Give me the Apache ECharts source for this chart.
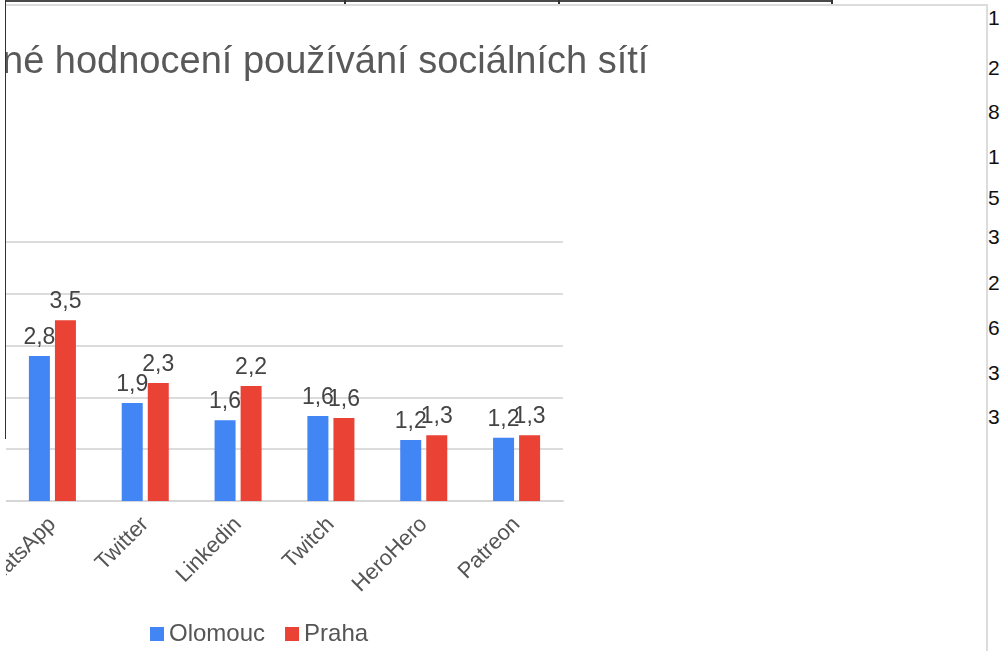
<!DOCTYPE html>
<html>
<head>
<meta charset="utf-8">
<script src="https://cdn.jsdelivr.net/npm/echarts@6/dist/echarts.min.js"></script>
<style>
  html, body { margin: 0; padding: 0; background: #fff; overflow: hidden; }
  body { width: 1000px; height: 651px; position: relative; font-family: "Liberation Sans", Arial, sans-serif; }
  #clip { position: absolute; left: 6px; top: 6px; width: 980px; height: 645px; overflow: hidden; }
  #chart { position: absolute; left: 0; top: 0; width: 980px; height: 645px; }
  .sheet-top { position: absolute; left: 5px; top: 0; width: 828px; height: 2px; background: #4a4a4a; }
  .tick { position: absolute; top: 0; width: 2px; height: 4px; background: #333; }
  .sheet-left { position: absolute; left: 5px; top: 0; width: 1px; height: 439px; background: #333; }
  .frame-top { position: absolute; left: 6px; top: 4px; width: 982px; height: 2px; background: #dcdcdc; }
  .frame-right { position: absolute; left: 986px; top: 4px; width: 2px; height: 647px; background: #dcdcdc; }
  .cell { position: absolute; left: 988px; font-size: 21px; color: #111; line-height: 22px; }
</style>
</head>
<body>
<div class="sheet-top"></div>
<div class="tick" style="left:344px"></div>
<div class="tick" style="left:558px"></div>
<div class="tick" style="left:831px"></div>
<div class="frame-top"></div>
<div class="frame-right"></div>
<div id="clip"><div id="chart"></div></div>
<div class="sheet-left"></div>
<div id="cells"></div>
<script>
// social networks visible in the cropped chart
var categories = ['WhatsApp', 'Twitter', 'Linkedin', 'Twitch', 'HeroHero', 'Patreon'];
var olomouc = [2.8, 1.89, 1.56, 1.64, 1.18, 1.22];
var praha = [3.49, 2.28, 2.22, 1.6, 1.27, 1.27];
var yTicks = [0, 1, 2, 3, 4, 5];
// digits of the spreadsheet column behind the chart
var cellDigits = ['1', '2', '8', '1', '5', '3', '2', '6', '3', '3'];
var cellTops = [7, 57, 101, 146, 187, 226, 272, 317, 362, 406];

var cells = document.getElementById('cells');
cellDigits.forEach(function (d, i) {
    var el = document.createElement('div');
    el.className = 'cell';
    el.style.top = cellTops[i] + 'px';
    el.textContent = d;
    cells.appendChild(el);
});

function fmt(p) {
    return p.value.toFixed(1).replace('.', ',');
}

var chart = echarts.init(document.getElementById('chart'));
var labelStyle = { show: true, position: 'top', distance: 7, fontSize: 23, color: '#444', fontFamily: 'Liberation Sans', formatter: fmt };

chart.setOption({
    animation: false,
    title: {
        text: 'né hodnocení používání sociálních sítí',
        left: -9,
        top: 33,
        textStyle: { fontSize: 38, fontWeight: 'normal', color: '#595959', fontFamily: 'Liberation Sans' }
    },
    legend: {
        left: 139,
        top: 611,
        itemWidth: 14,
        itemHeight: 14,
        itemGap: 20,
        icon: 'rect',
        textStyle: { fontSize: 24, color: '#555', fontFamily: 'Liberation Sans' },
        data: ['Olomouc', 'Praha']
    },
    grid: { left: 0, right: 423, top: 236, bottom: 150, containLabel: false, outerBoundsMode: 'none' },
    xAxis: {
        type: 'category',
        data: categories,
        axisLine: { lineStyle: { color: '#d6d6d6', width: 2 } },
        axisTick: { show: false },
        axisLabel: { rotate: 45, margin: 20, fontSize: 22, color: '#555', fontFamily: 'Liberation Sans', interval: 0 }
    },
    yAxis: {
        type: 'value',
        min: yTicks[0],
        max: yTicks[yTicks.length - 1],
        interval: 1,
        axisLabel: { show: false },
        axisLine: { show: false },
        axisTick: { show: false },
        splitLine: { lineStyle: { color: '#dcdcdc', width: 2 } }
    },
    series: [
        { name: 'Olomouc', type: 'bar', data: olomouc, barWidth: 21, barGap: '24%', itemStyle: { color: '#4285f4' }, label: labelStyle },
        { name: 'Praha', type: 'bar', data: praha, barWidth: 21, barGap: '24%', itemStyle: { color: '#ea4335' }, label: labelStyle }
    ]
});
</script>
</body>
</html>
